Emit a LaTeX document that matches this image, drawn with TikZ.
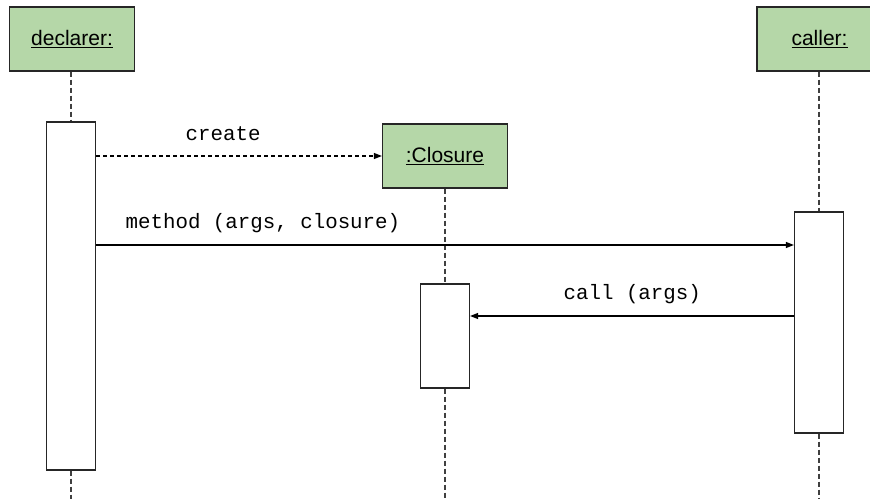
\documentclass[tikz,border=0pt]{standalone}
\usepackage{fontspec}
\setmainfont{Liberation Sans}
\setmonofont{Liberation Mono}
\usetikzlibrary{arrows.meta}
\definecolor{objgreen}{RGB}{181,215,168}
\tikzset{every picture/.style={line width=1.2pt}}

\begin{document}
\begin{tikzpicture}[x=1pt,y=1pt,yscale=-1,xscale=1,
    obj/.style={draw=black!85,fill=objgreen,minimum width=125pt,minimum height=64pt,inner sep=0pt,font=\fontsize{21}{25}\selectfont},
    act/.style={draw=black!85,fill=white,minimum width=49pt,inner sep=0pt},
    life/.style={draw=black!75,line width=1.5pt,dash pattern=on 5pt off 3pt},
    msg/.style={-{Triangle[length=8pt,width=6pt]}},
    lbl/.style={anchor=west,inner sep=0pt,font=\ttfamily\fontsize{20.8}{24}\selectfont}]
    \useasboundingbox (0,0) rectangle (870,499);
    % objects
    \node[obj] (declarer) at (72,39) {\underline{declarer:}};
    \node[obj] (closure) at (445,156) {\underline{:Closure}};
    \node[obj] (caller) at (819.5,39) {\underline{caller:}};
    % activations
    \node[act,minimum height=348pt] (declact) at (71,296) {};
    \node[act,minimum height=104pt] (closact) at (445,336) {};
    \node[act,minimum height=221pt] (callact) at (819,322.5) {};
    % lifeline ends
    \coordinate (declend) at (71,499);
    \coordinate (closend) at (445,499);
    \coordinate (callend) at (819,499);
    \draw[life] (declarer.south -| declact.north) -- (declact.north);
    \draw[life] (declact.south) -- (declend);
    \draw[life] (closure.south) -- (closact.north);
    \draw[life] (closact.south) -- (closend);
    \draw[life] (caller.south -| callact.north) -- (callact.north);
    \draw[life] (callact.south) -- (callend);
    % messages
    \coordinate (methody) at (0,245);
    \coordinate (cally) at (0,316);
    \draw[msg,dash pattern=on 4pt off 3pt] (declact.east |- closure.west) -- (closure.west);
    \draw[msg] (declact.east |- methody) -- (callact.west |- methody);
    \draw[msg] (callact.west |- cally) -- (closact.east |- cally);
    % labels
    \node[lbl] (createlbl) at (185,134) {create};
    \node[lbl] (methodlbl) at (125,223) {method (args, closure)};
    \node[lbl] (calllbl) at (563,294) {call (args)};
\end{tikzpicture}
\end{document}
